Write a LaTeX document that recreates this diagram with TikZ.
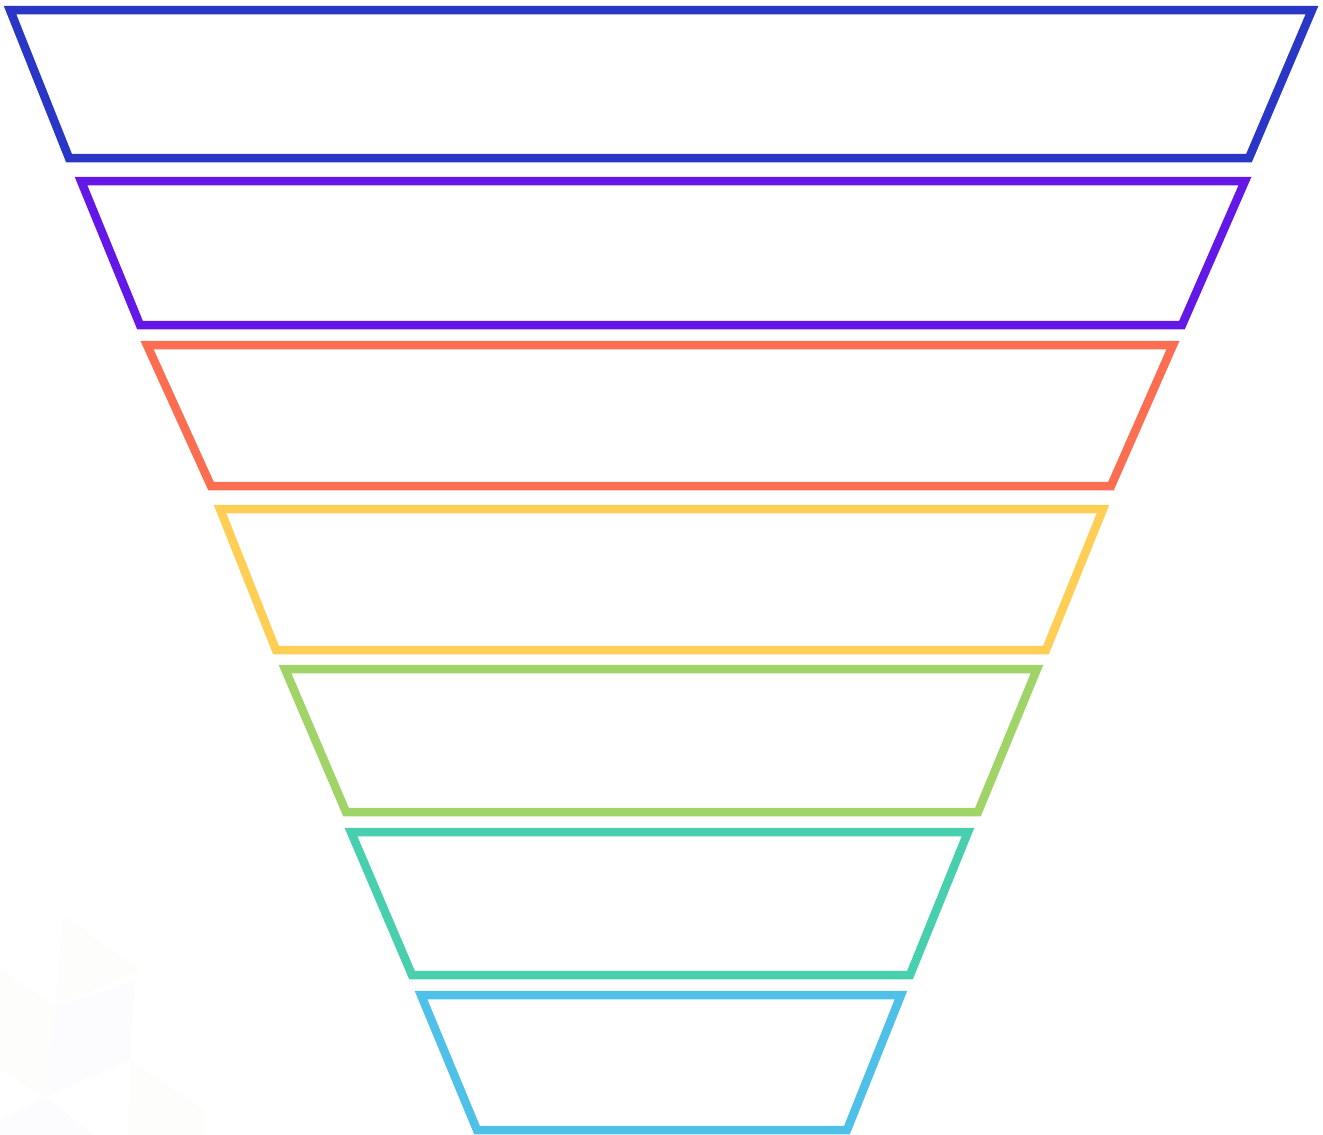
\documentclass[tikz,border=0pt]{standalone}
\definecolor{c1}{HTML}{2A36C6}
\definecolor{c2}{HTML}{6418E8}
\definecolor{c3}{HTML}{FC6E51}
\definecolor{c4}{HTML}{FFCE54}
\definecolor{c5}{HTML}{A0D468}
\definecolor{c6}{HTML}{48CFAD}
\definecolor{c7}{HTML}{4FC1E9}
\definecolor{faintA}{HTML}{FDFDFB}
\definecolor{faintB}{HTML}{FCFCFE}
\begin{document}
\begin{tikzpicture}[x=1pt,y=-1pt,
  level/.style={draw=#1,line width=8.5pt,line join=miter}]
\useasboundingbox (0,0) rectangle (1323,1135);
% faint background facets
\fill[faintA] (63,915) -- (140,970) -- (55,1007) -- cycle;
\fill[faintA] (0,968) -- (55,1007) -- (45,1097) -- (0,1070) -- cycle;
\fill[faintB] (55,1007) -- (135,980) -- (130,1060) -- (45,1097) -- cycle;
\fill[faintA] (130,1060) -- (205,1110) -- (205,1135) -- (128,1135) -- cycle;
\fill[faintB] (45,1097) -- (95,1135) -- (0,1135) -- (0,1120) -- cycle;
% funnel levels
\draw[level=c1] (10,10) -- (1312,10) -- (1249,158) -- (69,158) -- cycle;
\draw[level=c2] (81,181) -- (1245,181) -- (1182,325) -- (140,325) -- cycle;
\draw[level=c3] (147,345) -- (1173,345) -- (1111,486) -- (211,486) -- cycle;
\draw[level=c4] (220,509) -- (1103,509) -- (1046,650) -- (276,650) -- cycle;
\draw[level=c5] (285,669) -- (1037,669) -- (978,812) -- (346,812) -- cycle;
\draw[level=c6] (351,832) -- (968,832) -- (910,975) -- (412,975) -- cycle;
\draw[level=c7] (421,995) -- (901,995) -- (847,1130) -- (477,1130) -- cycle;
\end{tikzpicture}
\end{document}
